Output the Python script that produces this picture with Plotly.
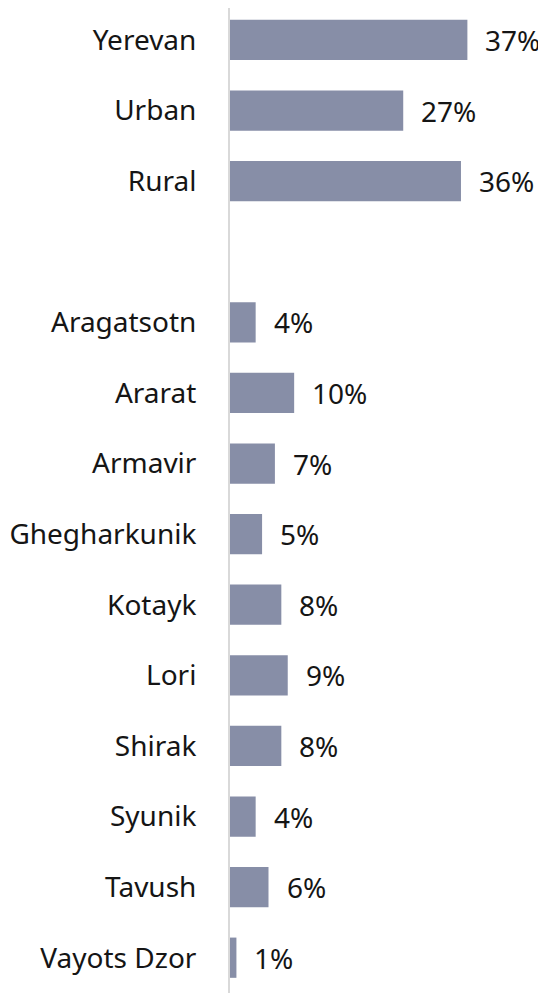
import plotly.graph_objects as go

categories = ["Yerevan", "Urban", "Rural", " ", "Aragatsotn", "Ararat", "Armavir",
              "Ghegharkunik", "Kotayk", "Lori", "Shirak", "Syunik", "Tavush", "Vayots Dzor"]
bar_categories = ["Yerevan", "Urban", "Rural", "Aragatsotn", "Ararat", "Armavir",
                  "Ghegharkunik", "Kotayk", "Lori", "Shirak", "Syunik", "Tavush", "Vayots Dzor"]
values = [37, 27, 36, 4, 10, 7, 5, 8, 9, 8, 4, 6, 1]
value_labels = [f"{v}%" for v in values]

FONT = "Noto Sans, Open Sans, sans-serif"
BAR_COLOR = "#878EA7"
TEXT_COLOR = "#151515"
FSIZE = 28

fig = go.Figure()
fig.add_trace(go.Bar(
    x=values, y=bar_categories, orientation="h",
    marker=dict(color=BAR_COLOR, line=dict(width=0)),
    hoverinfo="skip",
))

for v, c, t in zip(values, bar_categories, value_labels):
    fig.add_annotation(x=v, y=c, text=t, showarrow=False, xanchor="left",
                       yanchor="middle", xshift=16,
                       font=dict(family=FONT, size=FSIZE, color=TEXT_COLOR))

fig.update_layout(
    width=546, height=993,
    margin=dict(l=222, r=0, t=0, b=8),
    paper_bgcolor="white", plot_bgcolor="white",
    showlegend=False,
    bargap=0.43,
    font=dict(family=FONT, size=FSIZE, color=TEXT_COLOR),
    xaxis=dict(range=[0, 50.5], visible=False, fixedrange=True),
    yaxis=dict(
        type="category", categoryorder="array", categoryarray=categories,
        range=[13.5, -0.453],
        showline=True, linecolor="#D9D9D9", linewidth=2,
        showgrid=False, zeroline=False, ticks="",
        ticklabelstandoff=26,
        tickfont=dict(family=FONT, size=FSIZE, color=TEXT_COLOR),
        fixedrange=True,
    ),
)

fig.write_html("out.html")
